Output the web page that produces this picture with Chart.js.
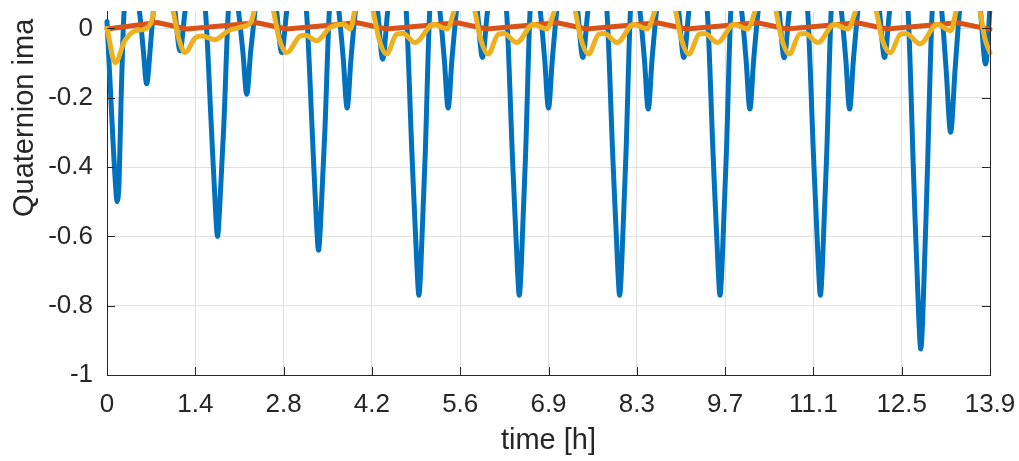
<!DOCTYPE html>
<html lang="en">
<head>
  <meta charset="UTF-8">
  <title>Quaternion</title>
  <script src="https://cdn.jsdelivr.net/npm/chart.js"></script>
  <style>
    html, body { margin: 0; padding: 0; background: #fff; }
    canvas { display: block; }
  </style>
</head>
<body>
  <canvas id="quatChart" width="1019" height="461"></canvas>

  <script>
    // time axis ticks (MATLAB put them at 13.9/10 steps)
    const xTickVals = [0, 1.39, 2.78, 4.17, 5.56, 6.95, 8.34, 9.73, 11.12, 12.51, 13.9];
    const xTickLabels = ['0', '1.4', '2.8', '4.2', '5.6', '6.9', '8.3', '9.7', '11.1', '12.5', '13.9'];
    const yTickVals = [-1, -0.8, -0.6, -0.4, -0.2, 0];
    const yTickLabels = ['-1', '-0.8', '-0.6', '-0.4', '-0.2', '0'];

    // blue component (one line per orbit)
    const blueT = [
      0, 0.06, 0.13, 0.16, 0.19, 0.22, 0.27, 0.40, 0.51, 0.57, 0.625, 0.68, 0.73, 0.90, 1.07, 1.15, 1.23, 1.39,
      1.55, 1.64, 1.71, 1.74, 1.77, 1.84, 1.91, 1.99, 2.07, 2.14, 2.20, 2.26, 2.33, 2.49, 2.67, 2.75, 2.83, 2.98,
      3.14, 3.23, 3.30, 3.33, 3.36, 3.43, 3.50, 3.58, 3.65, 3.72, 3.78, 3.84, 3.91, 4.07, 4.26, 4.34, 4.42, 4.57,
      4.71, 4.80, 4.88, 4.91, 4.94, 5.01, 5.08, 5.16, 5.24, 5.31, 5.37, 5.43, 5.50, 5.66, 5.83, 5.91, 5.99, 6.14,
      6.29, 6.38, 6.46, 6.49, 6.52, 6.59, 6.66, 6.74, 6.82, 6.89, 6.95, 7.01, 7.08, 7.24, 7.41, 7.49, 7.57, 7.72,
      7.87, 7.96, 8.04, 8.07, 8.10, 8.17, 8.24, 8.32, 8.39, 8.46, 8.52, 8.58, 8.65, 8.82, 9.00, 9.08, 9.16, 9.30,
      9.45, 9.54, 9.62, 9.65, 9.68, 9.75, 9.82, 9.90, 9.99, 10.06, 10.12, 10.18, 10.25, 10.41, 10.58, 10.66, 10.74, 10.89,
      11.03, 11.12, 11.20, 11.23, 11.26, 11.33, 11.40, 11.48, 11.56, 11.63, 11.69, 11.75, 11.82, 11.98, 12.16, 12.24, 12.32, 12.47,
      12.61, 12.70, 12.78, 12.81, 12.84, 12.91, 12.99, 13.07, 13.14, 13.21, 13.28, 13.35, 13.42, 13.58, 13.75, 13.83, 13.9
    ];
    const blueV = [
      0.02, -0.20, -0.44, -0.50, -0.44, -0.22, 0.05, 0.15, 0.05, -0.06, -0.16, -0.06, 0.05, 0.30, 0.05, -0.065, 0.05, 0.20,
      0.05, -0.275, -0.53, -0.60, -0.53, -0.275, 0.05, 0.15, 0.05, -0.07, -0.19, -0.07, 0.05, 0.30, 0.05, -0.07, 0.05, 0.20,
      0.05, -0.295, -0.57, -0.64, -0.57, -0.295, 0.05, 0.15, 0.05, -0.09, -0.23, -0.09, 0.05, 0.30, 0.05, -0.089, 0.05, 0.20,
      0.05, -0.36, -0.69, -0.77, -0.69, -0.36, 0.05, 0.15, 0.05, -0.09, -0.23, -0.09, 0.05, 0.30, 0.05, -0.084, 0.05, 0.20,
      0.05, -0.36, -0.69, -0.77, -0.69, -0.36, 0.05, 0.15, 0.05, -0.09, -0.23, -0.09, 0.05, 0.30, 0.05, -0.084, 0.05, 0.20,
      0.05, -0.36, -0.69, -0.77, -0.69, -0.36, 0.05, 0.15, 0.05, -0.09, -0.233, -0.09, 0.05, 0.30, 0.05, -0.084, 0.05, 0.20,
      0.05, -0.36, -0.69, -0.77, -0.69, -0.36, 0.05, 0.15, 0.05, -0.09, -0.233, -0.09, 0.05, 0.30, 0.05, -0.085, 0.05, 0.20,
      0.05, -0.36, -0.69, -0.77, -0.69, -0.36, 0.05, 0.15, 0.05, -0.09, -0.233, -0.09, 0.05, 0.30, 0.05, -0.084, 0.05, 0.20,
      0.05, -0.44, -0.84, -0.925, -0.84, -0.44, 0.05, 0.15, 0.05, -0.12, -0.30, -0.12, 0.05, 0.30, 0.05, -0.103, 0.06
    ];

    // orange component, slow sawtooth near zero
    const orangeT = [0, 0.79, 1.26, 2.36, 2.83, 3.94, 4.40, 5.51, 5.98, 7.09, 7.55, 8.66, 9.13, 10.24, 10.70, 11.81, 12.28, 13.39, 13.9];
    const orangeV = [-0.002, 0.017, -0.002, 0.016, -0.002, 0.016, -0.002, 0.016, -0.002, 0.016, -0.002, 0.016, -0.002, 0.016, -0.002, 0.016, -0.002, 0.016, -0.003];

    // yellow component
    const yellowT = [
      0, 0.13, 0.28, 0.44, 0.60, 0.70, 0.75, 0.90,
      1.04, 1.13, 1.23, 1.39, 1.50, 1.70, 1.91, 2.12, 2.27, 2.33, 2.48,
      2.62, 2.71, 2.83, 3.04, 3.12, 3.30, 3.51, 3.72, 3.83, 3.91, 4.05,
      4.19, 4.28, 4.40, 4.56, 4.66, 4.85, 5.14, 5.35, 5.48, 5.64,
      5.79, 5.88, 6.00, 6.16, 6.25, 6.45, 6.71, 6.92, 7.06, 7.21,
      7.37, 7.46, 7.58, 7.74, 7.83, 8.03, 8.29, 8.50, 8.64, 8.79,
      8.95, 9.04, 9.16, 9.32, 9.41, 9.61, 9.87, 10.08, 10.22, 10.37,
      10.53, 10.62, 10.74, 10.90, 10.99, 11.19, 11.45, 11.66, 11.80, 11.95,
      12.11, 12.20, 12.33, 12.49, 12.58, 12.80, 13.07, 13.28, 13.38, 13.55,
      13.74, 13.82, 13.9
    ];
    const yellowV = [
      0.0, -0.099, -0.036, -0.007, -0.002, 0.02, 0.06, 0.15,
      0.05, -0.03, -0.07, -0.027, -0.022, -0.033, -0.007, 0.004, 0.02, 0.06, 0.15,
      0.05, -0.03, -0.07, -0.022, -0.02, -0.036, 0.002, 0.012, -0.002, 0.06, 0.15,
      0.05, -0.03, -0.074, -0.017, -0.015, -0.041, 0.012, -0.002, 0.06, 0.15,
      0.05, -0.03, -0.074, -0.017, -0.015, -0.041, 0.012, -0.002, 0.06, 0.15,
      0.05, -0.03, -0.074, -0.017, -0.015, -0.041, 0.012, -0.002, 0.06, 0.15,
      0.05, -0.03, -0.074, -0.017, -0.015, -0.041, 0.012, -0.002, 0.06, 0.15,
      0.05, -0.03, -0.074, -0.017, -0.015, -0.041, 0.012, -0.002, 0.06, 0.15,
      0.05, -0.03, -0.07, -0.017, -0.015, -0.045, 0.012, -0.007, 0.06, 0.15,
      0.05, -0.03, -0.07
    ];

    const fontFamily = "'Liberation Sans', Arial, Helvetica, sans-serif";
    const textColor = '#262626';
    const gridColor = '#e0e0e0';

    const toPoints = (ts, vs) => ts.map((t, i) => ({ x: t, y: vs[i] }));

    // inward ticks, right axis line and the two axis titles (MATLAB look)
    const matlabAxes = {
      id: 'matlabAxes',
      afterDraw(chart) {
        const ctx = chart.ctx;
        const { left, right, top, bottom } = chart.chartArea;
        const xs = chart.scales.x, ys = chart.scales.y;
        const len = 8;
        ctx.save();
        ctx.strokeStyle = textColor;
        ctx.lineWidth = 1;
        ctx.beginPath();
        ctx.moveTo(Math.round(right) + 0.5, top);
        ctx.lineTo(Math.round(right) + 0.5, bottom);
        xTickVals.forEach(v => {
          const px = Math.round(xs.getPixelForValue(v)) + 0.5;
          ctx.moveTo(px, bottom);
          ctx.lineTo(px, bottom - len);
        });
        yTickVals.forEach(v => {
          const py = Math.round(ys.getPixelForValue(v)) + 0.5;
          ctx.moveTo(left, py);
          ctx.lineTo(left + len, py);
          ctx.moveTo(right, py);
          ctx.lineTo(right - len, py);
        });
        ctx.stroke();

        ctx.fillStyle = textColor;
        ctx.font = '29px ' + fontFamily;
        ctx.textBaseline = 'alphabetic';
        ctx.textAlign = 'center';
        ctx.fillText('time [h]', (left + right) / 2, 449);

        ctx.translate(33, 217);
        ctx.rotate(-Math.PI / 2);
        ctx.textAlign = 'left';
        ctx.fillText('Quaternion ima', 0, 0);
        ctx.restore();
      }
    };

    const lineStyle = {
      fill: false,
      pointRadius: 0,
      borderWidth: 5,
      cubicInterpolationMode: 'monotone',
      borderCapStyle: 'round',
      borderJoinStyle: 'round',
      clip: { left: 3, right: 3, top: 0, bottom: 3 }
    };

    new Chart(document.getElementById('quatChart'), {
      type: 'line',
      data: {
        datasets: [
          { ...lineStyle, label: 'q1', data: toPoints(blueT, blueV), borderColor: '#0072BD', order: 2 },
          { ...lineStyle, label: 'q2', data: toPoints(orangeT, orangeV), borderColor: '#D95319', cubicInterpolationMode: 'default', tension: 0, order: 1 },
          { ...lineStyle, label: 'q3', data: toPoints(yellowT, yellowV), borderColor: '#EDB120', order: 0 }
        ]
      },
      options: {
        responsive: false,
        animation: false,
        devicePixelRatio: 1,
        layout: { padding: { top: 11, right: 29, bottom: 0, left: 0 } },
        plugins: { legend: { display: false }, tooltip: { enabled: false } },
        scales: {
          x: {
            type: 'linear',
            min: 0,
            max: 13.9,
            afterBuildTicks: s => { s.ticks = xTickVals.map(v => ({ value: v })); },
            afterFit: s => { s.height = 86; s.paddingLeft = 0; s.paddingRight = 0; },
            ticks: {
              callback: (v, i) => xTickLabels[i],
              font: { family: fontFamily, size: 26 },
              color: textColor,
              padding: 14,
              maxRotation: 0,
              autoSkip: false
            },
            grid: { color: gridColor, drawTicks: false },
            border: { color: textColor, width: 1 }
          },
          y: {
            type: 'linear',
            min: -1,
            max: 0.05,
            afterBuildTicks: s => { s.ticks = yTickVals.map(v => ({ value: v })); },
            afterFit: s => { s.width = 107; s.paddingTop = 0; s.paddingBottom = 0; },
            ticks: {
              callback: (v, i) => yTickLabels[i],
              font: { family: fontFamily, size: 26 },
              color: textColor,
              padding: 14
            },
            grid: { color: gridColor, drawTicks: false },
            border: { color: textColor, width: 1 }
          }
        }
      },
      plugins: [matlabAxes]
    });
  </script>
</body>
</html>
